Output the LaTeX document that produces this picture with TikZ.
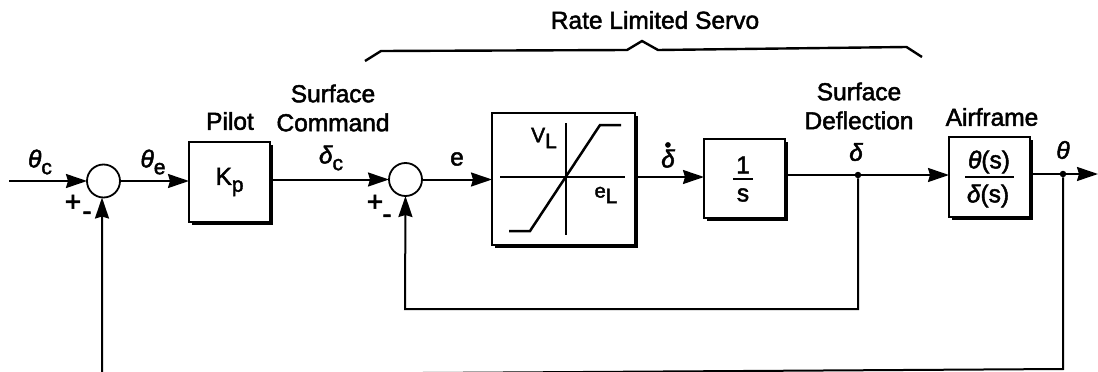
\documentclass[tikz,border=0pt]{standalone}
\usepackage{fontspec}
\newfontfamily\scanfont[FakeBold=2]{Liberation Sans}
\usetikzlibrary{arrows.meta,shadows}
\newcommand{\subtxt}[1]{\raisebox{-.28em}{\fontsize{21}{21}\selectfont #1}}
\newcommand{\gr}[1]{{\itshape #1}}
\newcommand{\dotdelta}{\makebox[0pt][l]{\hspace{.14em}\raisebox{.66em}{\fontsize{19}{19}\selectfont •}}\gr{δ}}
\tikzset{
	sig/.style={line width=2pt},
	arr/.style={sig, -{Stealth[length=21pt,width=14pt,inset=2pt]}},
	blockbox/.style={draw, line width=1.8pt, fill=white, inner sep=0pt, outer sep=0pt,
		drop shadow={shadow xshift=2.5pt, shadow yshift=-2.5pt, opacity=1, fill=black}},
	sumnode/.style={draw, circle, line width=1.8pt, minimum size=33pt, inner sep=0pt, outer sep=0pt},
	dotnode/.style={circle, fill=black, minimum size=6.5pt, inner sep=0pt},
	lbl/.style={font=\scanfont\fontsize{24.5}{29}\selectfont, inner sep=0pt, align=center},
	signlbl/.style={font=\scanfont\fontsize{28}{28}\selectfont, inner sep=0pt},
	small/.style={font=\scanfont\fontsize{21}{21}\selectfont, inner sep=0pt}
}
\begin{document}
\begin{tikzpicture}[x=1pt,y=-1pt]
	\useasboundingbox (0,0) rectangle (1098,372);
	%draw blocks
	\node[sumnode] (sumone) at (103.5,181) {};
	\node[blockbox, minimum width=81pt, minimum height=80pt, lbl] (pilot) at (229.5,182) {K\subtxt{p}};
	\node[sumnode] (sumtwo) at (405.5,179.5) {};
	\node[blockbox, minimum width=143pt, minimum height=132pt] (sat) at (563.5,179) {};
	\node[blockbox, minimum width=81pt, minimum height=79pt] (ints) at (744.5,178.5) {};
	\node[blockbox, minimum width=81pt, minimum height=80pt] (air) at (989.5,177) {};
	%draw junctions and free ends
	\node[dotnode] (jdelta) at (858,175) {};
	\node[dotnode] (jtheta) at (1063,174) {};
	\coordinate (input) at (9,181);
	\coordinate (output) at (1098,174);
	\coordinate (satline) at (566,177);
	\coordinate (fbcorner) at (1063,369);
	\coordinate (fbleft) at (102,375);
	%draw saturation curve
	\draw [line width=1.5pt] (566,123) -- (566,235);
	\draw [line width=1.5pt] (500,177) -- (625,177);
	\draw [line width=2.5pt] (509,231) -- (530,231) -- (600,125) -- (621,125);
	%draw connections
	\draw [arr] (input) -- (sumone.west);
	\draw [arr] (sumone.east) -- (sumone.east -| pilot.west);
	\draw [arr] (sumtwo.west -| pilot.east) -- (sumtwo.west);
	\draw [arr] (sumtwo.east) -- (sumtwo.east -| sat.west);
	\draw [arr] (satline -| sat.east) -- (satline -| ints.west);
	\draw [sig] (jdelta -| ints.east) -- (jdelta);
	\draw [arr] (jdelta) -- (jdelta -| air.west);
	\draw [sig] (jtheta -| air.east) -- (jtheta);
	\draw [arr] (jtheta) -- (output);
	\draw [arr] (jdelta) |- (405,309) -- (sumtwo.south);
	\draw [arr] (jtheta) -- (fbcorner) -- (fbleft) -- (fbleft |- sumone.south);
	%draw brace
	\draw [line width=2.4pt] (365,61) -- (381,51) -- (627,50) -- (642,41) -- (658,50) -- (906.5,47) -- (922,57);
	%draw labels
	\node[lbl] (servolabel) at (655,20) {Rate Limited Servo};
	\node[lbl] (pilotlabel) at (230,121) {Pilot};
	\node[lbl] (cmdlabel) at (333,108) {Surface\\Command};
	\node[lbl] (deflabel) at (859,106) {Surface\\Deflection};
	\node[lbl] (airlabel) at (992,117) {Airframe};
	\node[lbl] (thetac) at (40,162) {\gr{θ}\subtxt{c}};
	\node[lbl] (thetae) at (153,162) {\gr{θ}\subtxt{e}};
	\node[lbl] (deltac) at (331,158) {\gr{δ}\subtxt{c}};
	\node[lbl] (elabel) at (457,159) {e};
	\node[lbl] (deltadot) at (668,155) {\dotdelta};
	\node[lbl] (deltalabel) at (856,152) {\gr{δ}};
	\node[lbl] (thetalabel) at (1063,150) {\gr{θ}};
	\node[signlbl] (plusone) at (73,203) {+};
	\node[signlbl] (minusone) at (87,216) {-};
	\node[signlbl] (plustwo) at (375,203) {+};
	\node[signlbl] (minustwo) at (387,219) {-};
	\node[small] (vlimit) at (544,138) {V\subtxt{L}};
	\node[small, font=\scanfont\fontsize{20}{20}\selectfont] (elimit) at (606,195) {e\subtxt{L}};
	\node[lbl] (intnum) at (743,165) {1};
	\node[lbl] (intden) at (743,195) {s};
	\draw [sig] (733,179) -- (753,179);
	\node[lbl] (airnum) at (989,162) {\gr{θ}(s)};
	\node[lbl] (airden) at (988,196) {\gr{δ}(s)};
	\draw [sig] (965,177) -- (1014,177);
\end{tikzpicture}
\end{document}
